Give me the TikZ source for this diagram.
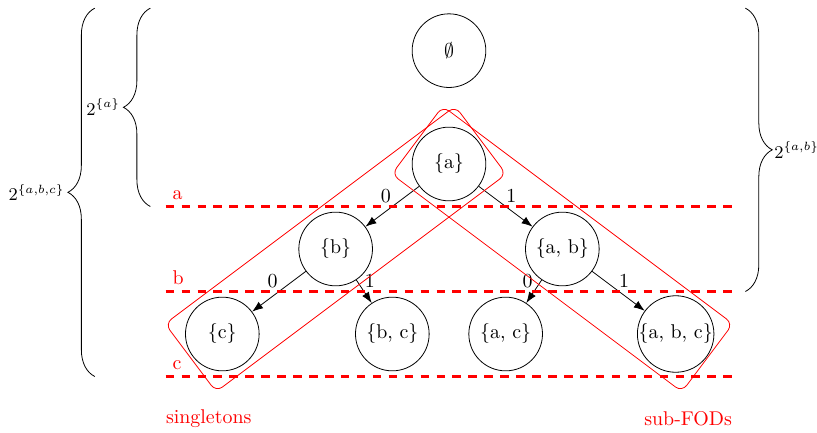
\documentclass[tikz,border=0pt]{standalone}
\usetikzlibrary{decorations.pathreplacing,arrows.meta}
\begin{document}
\begin{tikzpicture}[
  setnode/.style={circle, draw, minimum size=1.3cm, inner sep=0pt},
  arr/.style={-{Latex[length=5.5pt,width=4pt]}},
  lblL/.style={midway, xshift=-3.25pt, yshift=5.2pt, inner sep=0pt},
  lblR/.style={midway, xshift=2.9pt, yshift=5.3pt, inner sep=0pt},
  levelline/.style={red, line width=1.6pt, dash pattern=on 4.3pt off 3.7pt},
  levellabel/.style={red, above right},
  grp/.style={draw=red, rounded corners=4pt, minimum width=6.4cm, minimum height=1.5cm},
  brc/.style={decorate, decoration={brace, amplitude=13.5pt}},
  brclabel/.style={inner sep=1.5pt, font=\small},
]
\useasboundingbox (-7.923,-4.747) rectangle (6.494,2.894);

% set nodes
\node[setnode] (e) at (0,2) {$\emptyset$};
\node[setnode] (a) at (0,0) {\{a\}};
\node[setnode] (b) at (-2,-1.5) {\{b\}};
\node[setnode] (ab) at (2,-1.5) {\{a, b\}};
\node[setnode] (c) at (-4,-3) {\{c\}};
\node[setnode] (bc) at (-1,-3) {\{b, c\}};
\node[setnode] (ac) at (1,-3) {\{a, c\}};
\node[setnode] (abc) at (4,-3) {\{a, b, c\}};

% edges
\draw[arr] (a) -- node[lblL]{0} (b);
\draw[arr] (a) -- node[lblR]{1} (ab);
\draw[arr] (b) -- node[lblL]{0} (c);
\draw[arr] (b) -- node[lblR]{1} (bc);
\draw[arr] (ab) -- node[lblL]{0} (ac);
\draw[arr] (ab) -- node[lblR]{1} (abc);

% level lines
\coordinate (la) at (-5,-0.75); \coordinate (ra) at (5,-0.75);
\coordinate (lb) at (-5,-2.25); \coordinate (rb) at (5,-2.25);
\coordinate (lc) at (-5,-3.75); \coordinate (rc) at (5,-3.75);
\draw[levelline] (la) -- (ra);
\draw[levelline] (lb) -- (rb);
\draw[levelline] (lc) -- (rc);
\node[levellabel] (tla) at (la) {a};
\node[levellabel] (tlb) at (lb) {b};
\node[levellabel] (tlc) at (lc) {c};

% groups
\node[grp, rotate=36.87] (sing) at (b) {};
\node[grp, rotate=-36.87] (subf) at (ab) {};
\node[red, anchor=west, inner sep=0pt] (tsing) at (-5,-4.5) {singletons};
\node[red, anchor=east, inner sep=0pt] (tsubf) at (5,-4.5) {sub-FODs};

% braces
\coordinate (b1s) at (-6.25,-3.75); \coordinate (b1e) at (-6.25,2.75);
\coordinate (b2s) at (-5.27,-0.75); \coordinate (b2e) at (-5.27,2.75);
\coordinate (b3s) at (5.23,2.75); \coordinate (b3e) at (5.23,-2.25);
\draw[brc] (b1s) -- (b1e);
\draw[brc] (b2s) -- (b2e);
\draw[brc] (b3s) -- (b3e);
\node[brclabel, anchor=east] (l1) at (-6.726,-0.5) {$2^{\{a,b,c\}}$};
\node[brclabel, anchor=east] (l2) at (-5.746,1.0) {$2^{\{a\}}$};
\node[brclabel, inner sep=0.8pt, anchor=west] (l3) at (5.706,0.25) {$2^{\{a,b\}}$};
\end{tikzpicture}
\end{document}
